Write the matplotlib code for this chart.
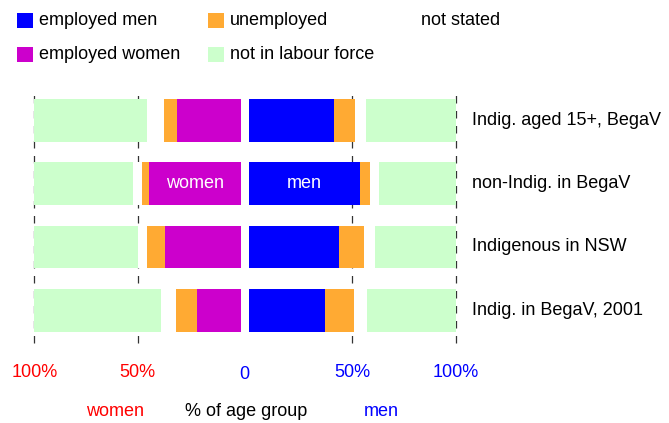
import matplotlib
matplotlib.use("Agg")
import matplotlib.pyplot as plt
from matplotlib.patches import Rectangle

plt.rcParams['font.family'] = ['Liberation Sans', 'DejaVu Sans']

# ---- data (percent of age group) ----
categories = ["Indig. aged 15+, BegaV", "non-Indig. in BegaV",
              "Indigenous in NSW", "Indig. in BegaV, 2001"]
women_employed = [31.0, 44.5, 36.8, 21.3]
women_unemployed = [6.3, 3.4, 8.7, 10.1]
women_not_stated = [8.2, 4.3, 4.3, 7.3]
women_nilf = [54.5, 47.8, 50.2, 61.3]
men_employed = [41.3, 53.7, 43.7, 37.0]
men_unemployed = [10.1, 5.0, 12.1, 14.0]
men_not_stated = [5.3, 4.3, 5.3, 6.2]
men_nilf = [43.3, 37.0, 38.9, 42.8]
tick_values = [50, 100]
tick_labels = ["50%", "100%"]

C_MEN = "#0000FF"
C_WOMEN = "#CC00CC"
C_UNEMP = "#FFAA33"
C_NILF = "#CCFFCC"
C_NS = "#FFFFFF"

W, H = 669, 423
fig = plt.figure(figsize=(W / 100, H / 100), dpi=100)

def fx(x):
    return x / W

def fy(y):
    return 1 - y / H

top_px, bot_px = 88, 343
axL = fig.add_axes([fx(34.3), fy(bot_px), fx(241) - fx(34.3), fy(top_px) - fy(bot_px)])
axR = fig.add_axes([fx(248.5), fy(bot_px), fx(455.7) - fx(248.5), fy(top_px) - fy(bot_px)])

ypos = list(range(len(categories)))
bh = 0.674
FS = 13

def stack(ax, segs, colors):
    left = [0] * len(ypos)
    for vals, col in zip(segs, colors):
        ax.barh(ypos, vals, left=left, height=bh, color=col, linewidth=0, zorder=2)
        left = [l + v for l, v in zip(left, vals)]

stack(axL, [women_employed, women_unemployed, women_not_stated, women_nilf],
      [C_WOMEN, C_UNEMP, C_NS, C_NILF])
stack(axR, [men_employed, men_unemployed, men_not_stated, men_nilf],
      [C_MEN, C_UNEMP, C_NS, C_NILF])

axL.set_xlim(100, 0)
axR.set_xlim(0, 100)
for ax, col in ((axL, "red"), (axR, "blue")):
    ax.set_ylim(3.516, -0.51)
    for s in ax.spines.values():
        s.set_visible(False)
    ax.set_yticks([])
    ax.set_xticks(tick_values)
    ax.set_xticklabels(tick_labels, color=col, fontsize=FS)
    ax.tick_params(axis='x', length=0, pad=15)
    ax.patch.set_visible(False)
    for v in tick_values:
        ax.axvline(v, color="#333333", lw=0.9, linestyle=(0, (6, 6)),
                   zorder=1, clip_on=False)

fig.text(fx(244.7), fy(374), "0", color="blue", fontsize=FS, ha="center", va="center")

# labels inside bars
axL.text(women_employed[1] / 2, 1, "women", color="white", fontsize=FS,
         ha="center", va="center", zorder=3)
axR.text(men_employed[1] / 2, 1, "men", color="white", fontsize=FS,
         ha="center", va="center", zorder=3)

# category labels
for i, c in enumerate(categories):
    axR.text(fx(472), i, c, transform=matplotlib.transforms.blended_transform_factory(fig.transFigure, axR.transData),
             fontsize=FS, ha="left", va="center")

# axis titles
fig.text(fx(115.3), fy(411), "women", color="red", fontsize=FS, ha="center", va="center")
fig.text(fx(246), fy(411), "% of age group", color="black", fontsize=FS, ha="center", va="center")
fig.text(fx(381.7), fy(411), "men", color="blue", fontsize=FS, ha="center", va="center")

# legend
legend_items = [
    (17, 20.5, C_MEN, "employed men"),
    (17, 54.5, C_WOMEN, "employed women"),
    (208, 20.5, C_UNEMP, "unemployed"),
    (208, 54.5, C_NILF, "not in labour force"),
    (399, 20.5, C_NS, "not stated"),
]
for x, y, col, lab in legend_items:
    fig.patches.append(Rectangle((fx(x), fy(y + 7.5)), 16 / W, 15 / H, transform=fig.transFigure,
                                 facecolor=col, edgecolor="none"))
    fig.text(fx(x + 22), fy(y), lab, fontsize=FS, ha="left", va="center")

fig.savefig("out.png", dpi=100)
